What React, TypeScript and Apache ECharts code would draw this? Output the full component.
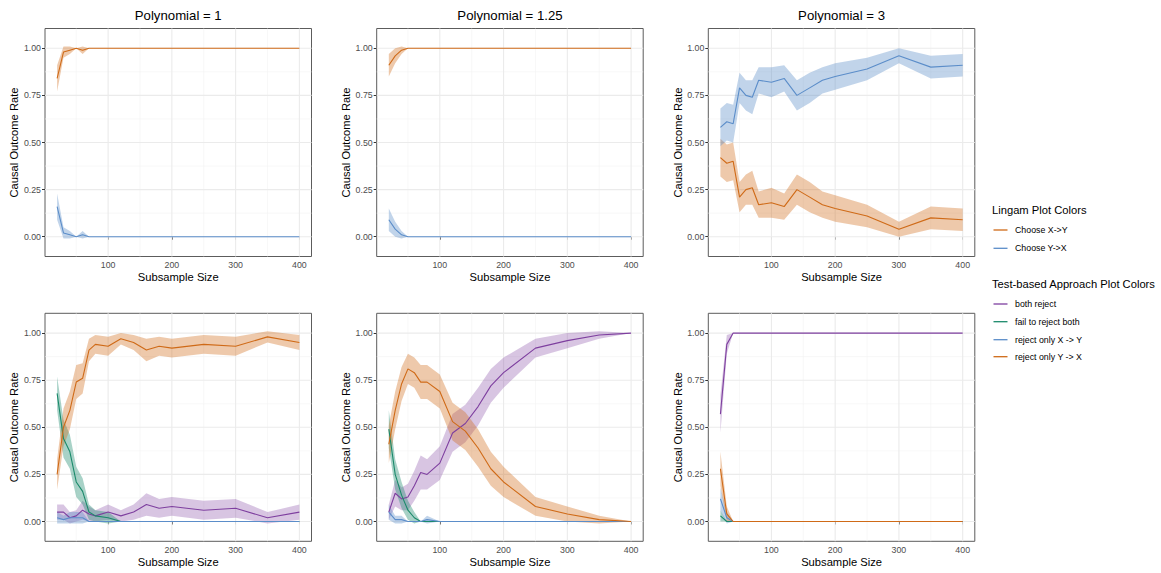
import React, { useEffect, useRef } from "react";
import * as echarts from "echarts";

// ---------- data ----------
const SUBSAMPLE = [20, 30, 40, 50, 60, 70, 80, 100, 120, 140, 160, 180, 200, 250, 300, 350, 400];
const PANEL_TITLES = ["Polynomial = 1", "Polynomial = 1.25", "Polynomial = 3"];
const X_TICKS = [100, 200, 300, 400];
const Y_TICKS = [0, 0.25, 0.5, 0.75, 1];
const X_MINOR = [50, 150, 250, 350];
const Y_MINOR = [0.125, 0.375, 0.625, 0.875];

// Lingam, polynomial = 1
const l1ChooseXY = [0.84, 0.98, 0.99, 1, 0.99, 1, 1, 1, 1, 1, 1, 1, 1, 1, 1, 1, 1];
const l1ChooseXYLo = [0.77, 0.95, 0.97, 1, 0.97, 1, 1, 1, 1, 1, 1, 1, 1, 1, 1, 1, 1];
const l1ChooseXYHi = [0.91, 1.01, 1.01, 1, 1.01, 1, 1, 1, 1, 1, 1, 1, 1, 1, 1, 1, 1];
const l1ChooseYX = [0.16, 0.02, 0.01, 0, 0.01, 0, 0, 0, 0, 0, 0, 0, 0, 0, 0, 0, 0];
const l1ChooseYXLo = [0.09, -0.01, -0.01, 0, -0.01, 0, 0, 0, 0, 0, 0, 0, 0, 0, 0, 0, 0];
const l1ChooseYXHi = [0.23, 0.05, 0.03, 0, 0.03, 0, 0, 0, 0, 0, 0, 0, 0, 0, 0, 0, 0];

// Lingam, polynomial = 1.25
const l2ChooseXY = [0.91, 0.96, 0.99, 1, 1, 1, 1, 1, 1, 1, 1, 1, 1, 1, 1, 1, 1];
const l2ChooseXYLo = [0.85, 0.92, 0.97, 1, 1, 1, 1, 1, 1, 1, 1, 1, 1, 1, 1, 1, 1];
const l2ChooseXYHi = [0.97, 1.0, 1.01, 1, 1, 1, 1, 1, 1, 1, 1, 1, 1, 1, 1, 1, 1];
const l2ChooseYX = [0.09, 0.04, 0.01, 0, 0, 0, 0, 0, 0, 0, 0, 0, 0, 0, 0, 0, 0];
const l2ChooseYXLo = [0.03, 0.0, -0.01, 0, 0, 0, 0, 0, 0, 0, 0, 0, 0, 0, 0, 0, 0];
const l2ChooseYXHi = [0.15, 0.08, 0.03, 0, 0, 0, 0, 0, 0, 0, 0, 0, 0, 0, 0, 0, 0];

// Lingam, polynomial = 3
const l3ChooseXY = [0.42, 0.39, 0.4, 0.21, 0.25, 0.26, 0.17, 0.18, 0.16, 0.25, 0.21, 0.17, 0.15, 0.11, 0.04, 0.1, 0.09];
const l3ChooseXYLo = [0.32, 0.29, 0.3, 0.13, 0.17, 0.17, 0.1, 0.1, 0.09, 0.17, 0.13, 0.1, 0.08, 0.05, 0.0, 0.04, 0.03];
const l3ChooseXYHi = [0.52, 0.49, 0.5, 0.29, 0.33, 0.35, 0.24, 0.26, 0.23, 0.33, 0.29, 0.24, 0.22, 0.17, 0.08, 0.16, 0.15];
const l3ChooseYX = [0.58, 0.61, 0.6, 0.79, 0.75, 0.74, 0.83, 0.82, 0.84, 0.75, 0.79, 0.83, 0.85, 0.89, 0.96, 0.9, 0.91];
const l3ChooseYXLo = [0.48, 0.51, 0.5, 0.71, 0.67, 0.65, 0.76, 0.74, 0.77, 0.67, 0.71, 0.76, 0.78, 0.83, 0.92, 0.84, 0.85];
const l3ChooseYXHi = [0.68, 0.71, 0.7, 0.87, 0.83, 0.83, 0.9, 0.9, 0.91, 0.83, 0.87, 0.9, 0.92, 0.95, 1.0, 0.96, 0.97];

// Test-based, polynomial = 1
const t1Both = [0.05, 0.05, 0.02, 0.03, 0.06, 0.04, 0.03, 0.05, 0.03, 0.05, 0.09, 0.07, 0.08, 0.06, 0.07, 0.02, 0.05];
const t1BothLo = [0.01, 0.01, -0.01, 0.0, 0.01, 0.0, 0.0, 0.01, 0.0, 0.01, 0.03, 0.02, 0.03, 0.01, 0.02, -0.01, 0.01];
const t1BothHi = [0.09, 0.09, 0.05, 0.06, 0.11, 0.08, 0.06, 0.09, 0.06, 0.09, 0.15, 0.12, 0.13, 0.11, 0.12, 0.05, 0.09];
const t1Fail = [0.68, 0.44, 0.37, 0.21, 0.16, 0.05, 0.03, 0.02, 0, 0, 0, 0, 0, 0, 0, 0, 0];
const t1FailLo = [0.59, 0.34, 0.28, 0.13, 0.09, 0.01, 0.0, -0.01, 0, 0, 0, 0, 0, 0, 0, 0, 0];
const t1FailHi = [0.77, 0.54, 0.46, 0.29, 0.23, 0.09, 0.06, 0.05, 0, 0, 0, 0, 0, 0, 0, 0, 0];
const t1OnlyXY = [0.02, 0.01, 0.02, 0.02, 0.02, 0, 0, 0, 0, 0, 0, 0, 0, 0, 0, 0, 0];
const t1OnlyXYLo = [-0.01, -0.01, -0.01, -0.01, -0.01, 0, 0, 0, 0, 0, 0, 0, 0, 0, 0, 0, 0];
const t1OnlyXYHi = [0.05, 0.03, 0.05, 0.05, 0.05, 0, 0, 0, 0, 0, 0, 0, 0, 0, 0, 0, 0];
const t1OnlyYX = [0.25, 0.5, 0.59, 0.74, 0.76, 0.91, 0.94, 0.93, 0.97, 0.95, 0.91, 0.93, 0.92, 0.94, 0.93, 0.98, 0.95];
const t1OnlyYXLo = [0.17, 0.4, 0.49, 0.65, 0.68, 0.85, 0.89, 0.88, 0.94, 0.91, 0.85, 0.88, 0.87, 0.89, 0.88, 0.95, 0.91];
const t1OnlyYXHi = [0.33, 0.6, 0.69, 0.83, 0.84, 0.97, 0.99, 0.98, 1.0, 0.99, 0.97, 0.98, 0.97, 0.99, 0.98, 1.01, 0.99];

// Test-based, polynomial = 1.25
const t2Both = [0.05, 0.15, 0.12, 0.13, 0.19, 0.26, 0.25, 0.31, 0.47, 0.52, 0.61, 0.72, 0.79, 0.92, 0.96, 0.99, 1];
const t2BothLo = [0.01, 0.08, 0.06, 0.06, 0.11, 0.17, 0.17, 0.22, 0.37, 0.42, 0.51, 0.63, 0.71, 0.87, 0.92, 0.97, 1];
const t2BothHi = [0.09, 0.22, 0.18, 0.2, 0.27, 0.35, 0.33, 0.4, 0.57, 0.62, 0.71, 0.81, 0.87, 0.97, 1.0, 1.01, 1];
const t2Fail = [0.49, 0.25, 0.14, 0.06, 0.02, 0, 0, 0, 0, 0, 0, 0, 0, 0, 0, 0, 0];
const t2FailLo = [0.39, 0.17, 0.07, 0.01, -0.01, 0, 0, 0, 0, 0, 0, 0, 0, 0, 0, 0, 0];
const t2FailHi = [0.59, 0.33, 0.21, 0.11, 0.05, 0, 0, 0, 0, 0, 0, 0, 0, 0, 0, 0, 0];
const t2OnlyXY = [0.05, 0.01, 0.01, 0, 0, 0, 0.01, 0, 0, 0, 0, 0, 0, 0, 0, 0, 0];
const t2OnlyXYLo = [0.01, -0.01, -0.01, 0, 0, 0, -0.01, 0, 0, 0, 0, 0, 0, 0, 0, 0, 0];
const t2OnlyXYHi = [0.09, 0.03, 0.03, 0, 0, 0, 0.03, 0, 0, 0, 0, 0, 0, 0, 0, 0, 0];
const t2OnlyYX = [0.41, 0.59, 0.73, 0.81, 0.79, 0.74, 0.74, 0.69, 0.53, 0.48, 0.39, 0.28, 0.21, 0.08, 0.04, 0.01, 0];
const t2OnlyYXLo = [0.31, 0.49, 0.64, 0.73, 0.71, 0.65, 0.65, 0.6, 0.43, 0.38, 0.29, 0.19, 0.13, 0.03, 0.0, -0.01, 0];
const t2OnlyYXHi = [0.51, 0.69, 0.82, 0.89, 0.87, 0.83, 0.83, 0.78, 0.63, 0.58, 0.49, 0.37, 0.29, 0.13, 0.08, 0.03, 0];

// Test-based, polynomial = 3
const t3Both = [0.57, 0.94, 1, 1, 1, 1, 1, 1, 1, 1, 1, 1, 1, 1, 1, 1, 1];
const t3BothLo = [0.47, 0.89, 1, 1, 1, 1, 1, 1, 1, 1, 1, 1, 1, 1, 1, 1, 1];
const t3BothHi = [0.67, 0.99, 1, 1, 1, 1, 1, 1, 1, 1, 1, 1, 1, 1, 1, 1, 1];
const t3Fail = [0.03, 0, 0, 0, 0, 0, 0, 0, 0, 0, 0, 0, 0, 0, 0, 0, 0];
const t3FailLo = [0.0, 0, 0, 0, 0, 0, 0, 0, 0, 0, 0, 0, 0, 0, 0, 0, 0];
const t3FailHi = [0.06, 0, 0, 0, 0, 0, 0, 0, 0, 0, 0, 0, 0, 0, 0, 0, 0];
const t3OnlyXY = [0.12, 0.02, 0, 0, 0, 0, 0, 0, 0, 0, 0, 0, 0, 0, 0, 0, 0];
const t3OnlyXYLo = [0.06, -0.01, 0, 0, 0, 0, 0, 0, 0, 0, 0, 0, 0, 0, 0, 0, 0];
const t3OnlyXYHi = [0.18, 0.05, 0, 0, 0, 0, 0, 0, 0, 0, 0, 0, 0, 0, 0, 0, 0];
const t3OnlyYX = [0.28, 0.04, 0, 0, 0, 0, 0, 0, 0, 0, 0, 0, 0, 0, 0, 0, 0];
const t3OnlyYXLo = [0.19, 0.0, 0, 0, 0, 0, 0, 0, 0, 0, 0, 0, 0, 0, 0, 0, 0];
const t3OnlyYXHi = [0.37, 0.08, 0, 0, 0, 0, 0, 0, 0, 0, 0, 0, 0, 0, 0, 0, 0];

const LINGAM_NAMES = ["Choose X->Y", "Choose Y->X"];
const TEST_NAMES = ["both reject", "fail to reject both", "reject only X -> Y", "reject only Y -> X"];

// ---------- styling ----------
const FONT = '"Liberation Sans", Arial, Helvetica, sans-serif';
const ORANGE = "#CF6A17";
const BLUE = "#5B8DC9";
const PURPLE = "#7E3F9F";
const GREEN = "#1B8A6B";
const FILL: Record<string, string> = {
  [ORANGE]: "rgba(207,106,23,0.36)",
  [BLUE]: "rgba(91,141,201,0.38)",
  [PURPLE]: "rgba(126,63,159,0.3)",
  [GREEN]: "rgba(27,138,107,0.38)",
};

const COL_LEFT = [45, 376.7, 708.3];
const COL_WIDTH = 266.5;
const ROW_TOP = [28.5, 313.3];
const ROW_HEIGHT = 228;
const X_MIN = 1;
const X_MAX = 419;
const Y_MIN = -0.105;
const Y_MAX = 1.105;

type Band = { name: string; color: string; mean: number[]; lo: number[]; hi: number[] };

const PANELS: Band[][] = [
  [
    { name: LINGAM_NAMES[0], color: ORANGE, mean: l1ChooseXY, lo: l1ChooseXYLo, hi: l1ChooseXYHi },
    { name: LINGAM_NAMES[1], color: BLUE, mean: l1ChooseYX, lo: l1ChooseYXLo, hi: l1ChooseYXHi },
  ],
  [
    { name: LINGAM_NAMES[0], color: ORANGE, mean: l2ChooseXY, lo: l2ChooseXYLo, hi: l2ChooseXYHi },
    { name: LINGAM_NAMES[1], color: BLUE, mean: l2ChooseYX, lo: l2ChooseYXLo, hi: l2ChooseYXHi },
  ],
  [
    { name: LINGAM_NAMES[0], color: ORANGE, mean: l3ChooseXY, lo: l3ChooseXYLo, hi: l3ChooseXYHi },
    { name: LINGAM_NAMES[1], color: BLUE, mean: l3ChooseYX, lo: l3ChooseYXLo, hi: l3ChooseYXHi },
  ],
  [
    { name: TEST_NAMES[0], color: PURPLE, mean: t1Both, lo: t1BothLo, hi: t1BothHi },
    { name: TEST_NAMES[1], color: GREEN, mean: t1Fail, lo: t1FailLo, hi: t1FailHi },
    { name: TEST_NAMES[2], color: BLUE, mean: t1OnlyXY, lo: t1OnlyXYLo, hi: t1OnlyXYHi },
    { name: TEST_NAMES[3], color: ORANGE, mean: t1OnlyYX, lo: t1OnlyYXLo, hi: t1OnlyYXHi },
  ],
  [
    { name: TEST_NAMES[0], color: PURPLE, mean: t2Both, lo: t2BothLo, hi: t2BothHi },
    { name: TEST_NAMES[1], color: GREEN, mean: t2Fail, lo: t2FailLo, hi: t2FailHi },
    { name: TEST_NAMES[2], color: BLUE, mean: t2OnlyXY, lo: t2OnlyXYLo, hi: t2OnlyXYHi },
    { name: TEST_NAMES[3], color: ORANGE, mean: t2OnlyYX, lo: t2OnlyYXLo, hi: t2OnlyYXHi },
  ],
  [
    { name: TEST_NAMES[0], color: PURPLE, mean: t3Both, lo: t3BothLo, hi: t3BothHi },
    { name: TEST_NAMES[1], color: GREEN, mean: t3Fail, lo: t3FailLo, hi: t3FailHi },
    { name: TEST_NAMES[2], color: BLUE, mean: t3OnlyXY, lo: t3OnlyXYLo, hi: t3OnlyXYHi },
    { name: TEST_NAMES[3], color: ORANGE, mean: t3OnlyYX, lo: t3OnlyYXLo, hi: t3OnlyYXHi },
  ],
];

function buildOption() {
  const grid: any[] = [];
  const xAxis: any[] = [];
  const yAxis: any[] = [];
  const series: any[] = [];

  for (let gi = 0; gi < 6; gi++) {
    const r = Math.floor(gi / 3);
    const c = gi % 3;
    grid.push({
      left: COL_LEFT[c],
      top: ROW_TOP[r],
      width: COL_WIDTH,
      height: ROW_HEIGHT,
      show: true,
      borderColor: "#5c5c5c",
      borderWidth: 1,
      backgroundColor: "#ffffff",
      containLabel: false,
    });
    xAxis.push({
      type: "value",
      gridIndex: gi,
      min: X_MIN,
      max: X_MAX,
      axisLine: { show: false },
      axisTick: { show: true, customValues: X_TICKS, length: 3, lineStyle: { color: "#333", width: 1 } },
      axisLabel: { customValues: X_TICKS, color: "#4D4D4D", fontSize: 8.8, fontFamily: FONT, margin: 4 },
      splitLine: { show: false },
      name: "Subsample Size",
      nameLocation: "middle",
      nameGap: 15,
      nameTextStyle: { color: "#000", fontSize: 11.2, fontFamily: FONT },
    });
    yAxis.push({
      type: "value",
      gridIndex: gi,
      min: Y_MIN,
      max: Y_MAX,
      axisLine: { show: false },
      axisTick: { show: true, customValues: Y_TICKS, length: 3, lineStyle: { color: "#333", width: 1 } },
      axisLabel: {
        customValues: Y_TICKS,
        color: "#4D4D4D",
        fontSize: 8.8,
        fontFamily: FONT,
        margin: 4,
        formatter: (v: number) => v.toFixed(2),
      },
      splitLine: { show: false },
      name: "Causal Outcome Rate",
      nameLocation: "middle",
      nameRotate: 90,
      nameGap: 25,
      nameTextStyle: { color: "#000", fontSize: 11.2, fontFamily: FONT },
    });

    // grid lines (major + minor) through the axis scales
    series.push({
      type: "custom",
      xAxisIndex: gi,
      yAxisIndex: gi,
      silent: true,
      z: 1,
      data: [[X_TICKS[0], Y_TICKS[0]]],
      renderItem: (params: any, api: any) => {
        const cs = params.coordSys;
        const children: any[] = [];
        const vline = (v: number, stroke: string, w: number) => {
          const p = api.coord([v, 0]);
          children.push({
            type: "line",
            shape: { x1: p[0], y1: cs.y, x2: p[0], y2: cs.y + cs.height },
            style: { stroke, lineWidth: w },
          });
        };
        const hline = (v: number, stroke: string, w: number) => {
          const p = api.coord([100, v]);
          children.push({
            type: "line",
            shape: { x1: cs.x, y1: p[1], x2: cs.x + cs.width, y2: p[1] },
            style: { stroke, lineWidth: w },
          });
        };
        X_MINOR.forEach((v) => vline(v, "#F3F3F3", 0.6));
        Y_MINOR.forEach((v) => hline(v, "#F3F3F3", 0.6));
        X_TICKS.forEach((v) => vline(v, "#EBEBEB", 1.1));
        Y_TICKS.forEach((v) => hline(v, "#EBEBEB", 1.1));
        return { type: "group", children };
      },
    });

    const bands = PANELS[gi];
    // ribbons
    bands.forEach((b) => {
      series.push({
        type: "custom",
        name: b.name + " band",
        xAxisIndex: gi,
        yAxisIndex: gi,
        silent: true,
        z: 2,
        data: SUBSAMPLE.map((x, i) => [x, b.lo[i], b.hi[i]]),
        encode: { x: 0, y: [1, 2] },
        renderItem: (params: any, api: any) => {
          if (params.dataIndex !== 0) return null;
          const pts: number[][] = [];
          for (let i = 0; i < SUBSAMPLE.length; i++) pts.push(api.coord([SUBSAMPLE[i], b.hi[i]]));
          for (let i = SUBSAMPLE.length - 1; i >= 0; i--) pts.push(api.coord([SUBSAMPLE[i], b.lo[i]]));
          return { type: "polygon", shape: { points: pts }, style: { fill: FILL[b.color], stroke: "none" } };
        },
      });
    });
    // lines
    bands.forEach((b) => {
      series.push({
        type: "line",
        name: b.name,
        xAxisIndex: gi,
        yAxisIndex: gi,
        data: SUBSAMPLE.map((x, i) => [x, b.mean[i]]),
        symbol: "none",
        silent: true,
        z: 3,
        lineStyle: { color: b.color, width: 1.1 },
        itemStyle: { color: b.color },
      });
    });
  }

  const graphic: any[] = [];
  PANEL_TITLES.forEach((t, c) => {
    graphic.push({
      type: "text",
      x: COL_LEFT[c] + COL_WIDTH / 2,
      y: 15,
      style: {
        text: t,
        align: "center",
        verticalAlign: "middle",
        fontSize: 13.2,
        fontWeight: "normal",
        fontFamily: FONT,
        fill: "#000",
      },
    });
  });

  const legendX = 992;
  const addTitle = (text: string, y: number) =>
    graphic.push({
      type: "text",
      x: legendX,
      y,
      style: { text, align: "left", verticalAlign: "middle", fontSize: 11.2, fontWeight: "normal", fontFamily: FONT, fill: "#000" },
    });
  const addItem = (text: string, color: string, y: number) => {
    graphic.push({
      type: "line",
      shape: { x1: legendX + 1.5, y1: y, x2: legendX + 15.5, y2: y },
      style: { stroke: color, lineWidth: 1.3 },
    });
    graphic.push({
      type: "text",
      x: legendX + 23,
      y,
      style: { text, align: "left", verticalAlign: "middle", fontSize: 8.8, fontFamily: FONT, fill: "#000" },
    });
  };
  addTitle("Lingam Plot Colors", 210);
  addItem(LINGAM_NAMES[0], ORANGE, 230);
  addItem(LINGAM_NAMES[1], BLUE, 248.3);
  addTitle("Test-based Approach Plot Colors", 284.3);
  addItem(TEST_NAMES[0], PURPLE, 304);
  addItem(TEST_NAMES[1], GREEN, 321.7);
  addItem(TEST_NAMES[2], BLUE, 339.7);
  addItem(TEST_NAMES[3], ORANGE, 356.7);

  return {
    animation: false,
    backgroundColor: "#ffffff",
    textStyle: { fontFamily: FONT },
    grid,
    xAxis,
    yAxis,
    series,
    graphic,
  };
}

export default function App() {
  const ref = useRef<HTMLDivElement>(null);
  useEffect(() => {
    if (!ref.current) return;
    const chart = echarts.init(ref.current, null, { renderer: "svg" });
    chart.setOption(buildOption() as any);
    return () => chart.dispose();
  }, []);
  return (
    <div
      ref={ref}
      style={{ position: "fixed", left: 0, top: 0, width: 1161, height: 573, background: "#fff" }}
    />
  );
}
